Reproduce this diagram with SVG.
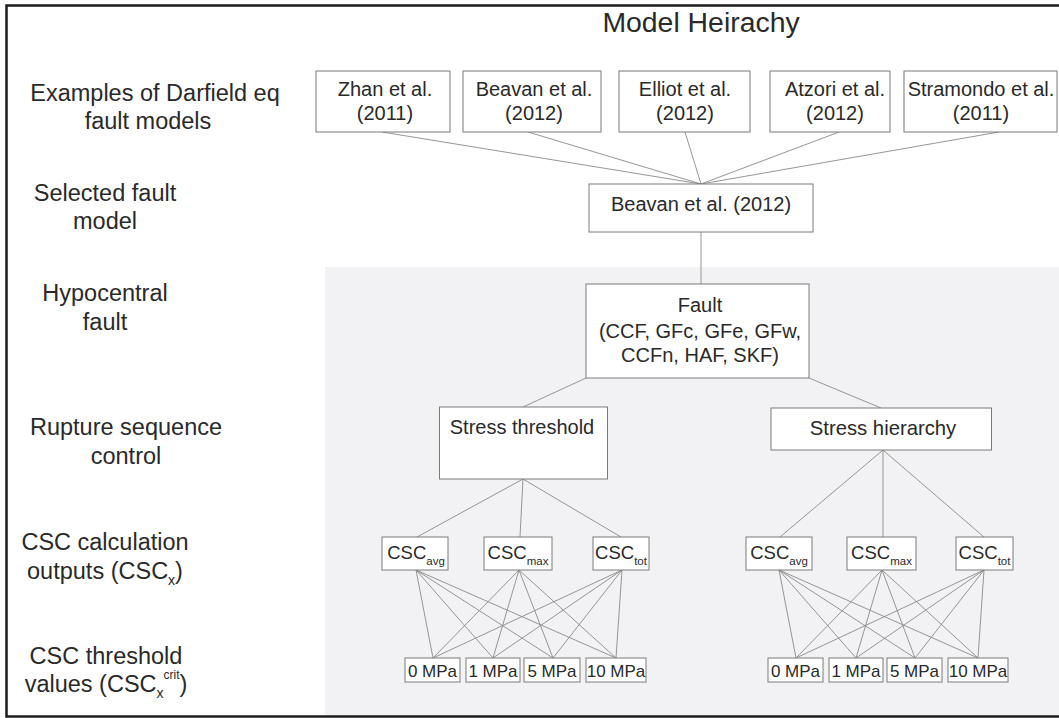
<svg xmlns="http://www.w3.org/2000/svg" width="1059" height="718" viewBox="0 0 1059 718">
<style>
text{font-family:"Liberation Sans",Arial,sans-serif;fill:#2a2a2a}
.lbl{font-size:23.5px;text-anchor:middle}
.bt{font-size:20px;text-anchor:middle}
.csc{font-size:18.5px;text-anchor:middle}
.mpa{font-size:17px;text-anchor:middle}
.box{fill:#ffffff;stroke:#7a7a7a;stroke-width:1}
#connectors line{stroke:#8a8a8a;stroke-width:0.9}
</style>
<rect x="0" y="0" width="1059" height="718" fill="#ffffff"/>
<rect x="325" y="267" width="740" height="449" fill="#f2f2f4"/>
<rect x="6.5" y="5.5" width="1065" height="711" fill="none" stroke="#1c1c1c" stroke-width="2.5"/>
<text x="701" y="32" style="font-size:28.4px;text-anchor:middle">Model Heirachy</text>
<g id="labels">
<text class="lbl" x="155" y="101">Examples of Darfield eq</text>
<text class="lbl" x="148" y="129">fault models</text>
<text class="lbl" x="105" y="201">Selected fault</text>
<text class="lbl" x="105" y="229">model</text>
<text class="lbl" x="105" y="301">Hypocentral</text>
<text class="lbl" x="105" y="330">fault</text>
<text class="lbl" x="126" y="435">Rupture sequence</text>
<text class="lbl" x="126" y="464">control</text>
<text class="lbl" x="105" y="550">CSC calculation</text>
<text class="lbl" x="105" y="579">outputs (CSC<tspan dy="6" style="font-size:14px">x</tspan><tspan dy="-6">)</tspan></text>
<text class="lbl" x="106" y="664">CSC threshold</text>
<text class="lbl" x="106" y="692">values (CSC<tspan dy="6" style="font-size:14px">x</tspan><tspan dy="-19" style="font-size:12px">crit</tspan><tspan dy="13">)</tspan></text>
</g>
<g id="connectors">
<line x1="382" y1="132" x2="701" y2="184"/>
<line x1="528" y1="132" x2="701" y2="184"/>
<line x1="685" y1="132" x2="701" y2="184"/>
<line x1="839" y1="132" x2="701" y2="184"/>
<line x1="999" y1="132" x2="701" y2="184"/>
<line x1="701" y1="232" x2="701" y2="284"/>
<line x1="586" y1="378" x2="523" y2="407"/>
<line x1="809" y1="378" x2="881" y2="408"/>
<line x1="523" y1="479" x2="417" y2="537"/>
<line x1="523" y1="479" x2="520" y2="537"/>
<line x1="523" y1="479" x2="621" y2="537"/>
<line x1="883" y1="450" x2="780" y2="537"/>
<line x1="883" y1="450" x2="883" y2="537"/>
<line x1="883" y1="450" x2="984" y2="537"/>
<line x1="416" y1="570" x2="433" y2="658"/>
<line x1="416" y1="570" x2="493" y2="658"/>
<line x1="416" y1="570" x2="553" y2="658"/>
<line x1="416" y1="570" x2="616" y2="658"/>
<line x1="519" y1="570" x2="433" y2="658"/>
<line x1="519" y1="570" x2="493" y2="658"/>
<line x1="519" y1="570" x2="553" y2="658"/>
<line x1="519" y1="570" x2="616" y2="658"/>
<line x1="622" y1="570" x2="433" y2="658"/>
<line x1="622" y1="570" x2="493" y2="658"/>
<line x1="622" y1="570" x2="553" y2="658"/>
<line x1="622" y1="570" x2="616" y2="658"/>
<line x1="779" y1="570" x2="796" y2="658"/>
<line x1="779" y1="570" x2="856" y2="658"/>
<line x1="779" y1="570" x2="915" y2="658"/>
<line x1="779" y1="570" x2="978" y2="658"/>
<line x1="882" y1="570" x2="796" y2="658"/>
<line x1="882" y1="570" x2="856" y2="658"/>
<line x1="882" y1="570" x2="915" y2="658"/>
<line x1="882" y1="570" x2="978" y2="658"/>
<line x1="984" y1="570" x2="796" y2="658"/>
<line x1="984" y1="570" x2="856" y2="658"/>
<line x1="984" y1="570" x2="915" y2="658"/>
<line x1="984" y1="570" x2="978" y2="658"/>
</g>
<g id="zhan"><rect class="box" x="316" y="71" width="134" height="61"/><text class="bt" x="385" y="96">Zhan et al.</text><text class="bt" x="385" y="120">(2011)</text></g>
<g id="beavan"><rect class="box" x="463" y="71" width="138" height="61"/><text class="bt" x="534" y="96">Beavan et al.</text><text class="bt" x="534" y="120">(2012)</text></g>
<g id="elliot"><rect class="box" x="619" y="71" width="131" height="61"/><text class="bt" x="685" y="96">Elliot et al.</text><text class="bt" x="685" y="120">(2012)</text></g>
<g id="atzori"><rect class="box" x="770" y="71" width="120" height="61"/><text class="bt" x="835" y="96">Atzori et al.</text><text class="bt" x="835" y="120">(2012)</text></g>
<g id="stramondo"><rect class="box" x="904" y="71" width="153" height="61"/><text class="bt" x="981" y="96">Stramondo et al.</text><text class="bt" x="981" y="120">(2011)</text></g>
<g id="selected"><rect class="box" x="589" y="184" width="224" height="48"/><text class="bt" x="701" y="211">Beavan et al. (2012)</text></g>
<g id="fault"><rect class="box" x="586" y="284" width="223" height="94" stroke="#555"/><text class="bt" x="700" y="312">Fault</text><text class="bt" x="700" y="338">(CCF, GFc, GFe, GFw,</text><text class="bt" x="700" y="362">CCFn, HAF, SKF)</text></g>
<g id="stress-threshold"><rect class="box" x="439.5" y="407" width="168" height="72"/><text class="bt" x="522" y="434">Stress threshold</text></g>
<g id="stress-hierarchy"><rect class="box" x="771" y="408" width="220.5" height="42"/><text class="bt" x="883" y="435" style="font-size:20.3px">Stress hierarchy</text></g>
<g id="st-avg"><rect class="box" x="382" y="537" width="66" height="33"/><text class="csc" x="416" y="559">CSC<tspan dy="6" style="font-size:11.5px">avg</tspan></text></g>
<g id="st-max"><rect class="box" x="484" y="537" width="68" height="33"/><text class="csc" x="518" y="559">CSC<tspan dy="6" style="font-size:11.5px">max</tspan></text></g>
<g id="st-tot"><rect class="box" x="593" y="537" width="56" height="33"/><text class="csc" x="621" y="559">CSC<tspan dy="6" style="font-size:11.5px">tot</tspan></text></g>
<g id="sh-avg"><rect class="box" x="746" y="537" width="66" height="33"/><text class="csc" x="779" y="559">CSC<tspan dy="6" style="font-size:11.5px">avg</tspan></text></g>
<g id="sh-max"><rect class="box" x="847" y="537" width="69" height="33"/><text class="csc" x="881.5" y="559">CSC<tspan dy="6" style="font-size:11.5px">max</tspan></text></g>
<g id="sh-tot"><rect class="box" x="956" y="537" width="57" height="33"/><text class="csc" x="984.5" y="559">CSC<tspan dy="6" style="font-size:11.5px">tot</tspan></text></g>
<g id="st-0"><rect class="box" x="405" y="658" width="55" height="24"/><text class="mpa" x="432.5" y="677">0 MPa</text></g>
<g id="st-1"><rect class="box" x="466" y="658" width="54" height="24"/><text class="mpa" x="493" y="677">1 MPa</text></g>
<g id="st-5"><rect class="box" x="524" y="658" width="56" height="24"/><text class="mpa" x="552" y="677">5 MPa</text></g>
<g id="st-10"><rect class="box" x="586" y="658" width="60" height="24"/><text class="mpa" x="616" y="677">10 MPa</text></g>
<g id="sh-0"><rect class="box" x="768" y="658" width="55" height="24"/><text class="mpa" x="795.5" y="677">0 MPa</text></g>
<g id="sh-1"><rect class="box" x="829" y="658" width="54" height="24"/><text class="mpa" x="856" y="677">1 MPa</text></g>
<g id="sh-5"><rect class="box" x="887" y="658" width="55" height="24"/><text class="mpa" x="914.5" y="677">5 MPa</text></g>
<g id="sh-10"><rect class="box" x="948" y="658" width="60" height="24"/><text class="mpa" x="978" y="677">10 MPa</text></g>
</svg>
